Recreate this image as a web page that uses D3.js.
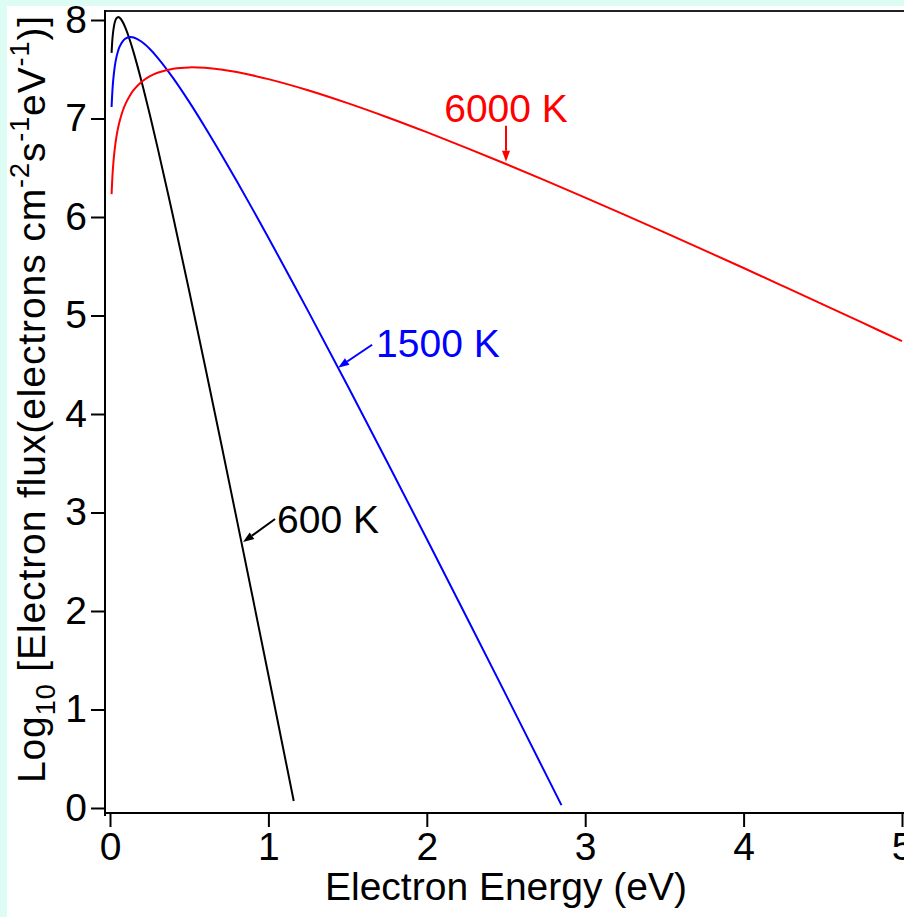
<!DOCTYPE html>
<html>
<head>
<meta charset="utf-8">
<script src="https://cdn.jsdelivr.net/npm/d3@7"></script>
<style>
  html, body { margin: 0; padding: 0; background: #dcfcf4; }
  svg { display: block; }
  text { font-family: "Liberation Sans", Arial, Helvetica, sans-serif; }
</style>
</head>
<body>
<div id="chart"></div>
<script>
// ---- Data ----
const xTicks = [0, 1, 2, 3, 4, 5];
const yTicks = [0, 1, 2, 3, 4, 5, 6, 7, 8];

const energy600 = [0.01,0.015,0.02,0.03,0.04,0.05,0.06,0.08,0.1,0.125,0.15,0.2,0.25,0.3,0.4,0.5,0.6,0.7,0.8,0.9,1.0,1.1,1.16];
const flux600   = [7.666,7.800,7.883,7.975,8.016,8.029,8.024,7.981,7.910,7.797,7.666,7.371,7.048,6.707,5.992,5.249,4.488,3.715,2.933,2.144,1.350,0.551,0.071];

const energy1500 = [0.01,0.015,0.02,0.03,0.04,0.05,0.06,0.08,0.1,0.125,0.15,0.2,0.25,0.3,0.4,0.5,0.6,0.7,0.8,0.9,1.0,1.25,1.5,1.75,2.0,2.25,2.5,2.75,2.85];
const flux1500   = [7.116,7.276,7.384,7.526,7.618,7.681,7.727,7.784,7.814,7.827,7.822,7.779,7.708,7.619,7.408,7.169,6.912,6.643,6.365,6.080,5.790,5.047,4.286,3.513,2.731,1.942,1.148,0.349,0.029];

const energy6000 = [0.01,0.015,0.02,0.03,0.04,0.05,0.06,0.08,0.1,0.125,0.15,0.2,0.25,0.3,0.4,0.5,0.6,0.7,0.8,1.0,1.25,1.5,1.75,2.0,2.25,2.5,2.75,3.0,3.25,3.5,3.75,4.0,4.25,4.5,4.75,5.0];
const flux6000   = [6.232,6.404,6.524,6.692,6.809,6.897,6.968,7.076,7.156,7.232,7.290,7.373,7.428,7.465,7.506,7.519,7.514,7.497,7.471,7.400,7.287,7.156,7.013,6.861,6.702,6.538,6.369,6.197,6.022,5.844,5.664,5.482,5.298,5.113,4.927,4.739];

const seriesNames  = ["600 K", "1500 K", "6000 K"];
const seriesColors = ["#000000", "#0000ff", "#ff0000"];
// annotation arrow tips (energy, log flux) on each curve
const labelTipE = [0.84, 1.44, 2.50];
const labelTipY = [2.70, 4.47, 6.56];

// ---- Layout ----
const W = 904, H = 917;
const svg = d3.select("#chart").append("svg").attr("width", W).attr("height", H);
svg.append("rect").attr("x", 7).attr("y", 6).attr("width", W - 7).attr("height", H - 6).attr("fill", "#ffffff");

const x = d3.scaleLinear().domain([0, 5]).range([110, 902]);
const y = d3.scaleLinear().domain([0, 8]).range([808, 20]);

const axisLeftX = 105, axisBottomY = 813, frameTopY = 11;
const fontSize = 39;

// frame lines
svg.append("line").attr("x1", axisLeftX).attr("x2", W).attr("y1", frameTopY).attr("y2", frameTopY)
  .attr("stroke", "#222").attr("stroke-width", 2);

// X axis
const xMinor = d3.range(0, 5.0001, 0.2).map(v => +v.toFixed(1));
const gx = svg.append("g").attr("transform", `translate(0,${axisBottomY})`);
gx.call(d3.axisBottom(x).tickValues(xMinor).tickSize(7).tickSizeOuter(0).tickFormat(""));
gx.call(d3.axisBottom(x).tickValues(xTicks).tickSize(14).tickSizeOuter(0).tickPadding(5).tickFormat(d3.format("d")));
gx.selectAll("path.domain").remove();
gx.selectAll("line").attr("stroke", "#000").attr("stroke-width", 2);
gx.selectAll("text").attr("font-size", fontSize).attr("fill", "#000").style("font-family", '"Liberation Sans", Arial, sans-serif');
svg.append("line").attr("x1", axisLeftX - 1).attr("x2", W).attr("y1", axisBottomY).attr("y2", axisBottomY)
  .attr("stroke", "#000").attr("stroke-width", 2);

// Y axis
const yMinor = d3.range(0, 8.0001, 0.2).map(v => +v.toFixed(1));
const gy = svg.append("g").attr("transform", `translate(${axisLeftX},0)`);
gy.call(d3.axisLeft(y).tickValues(yMinor).tickSize(7).tickSizeOuter(0).tickFormat(""));
gy.call(d3.axisLeft(y).tickValues(yTicks).tickSize(14).tickSizeOuter(0).tickPadding(4).tickFormat(d3.format("d")));
gy.selectAll("path.domain").remove();
gy.selectAll("line").attr("stroke", "#000").attr("stroke-width", 2);
gy.selectAll("text").attr("font-size", fontSize).attr("fill", "#000").style("font-family", '"Liberation Sans", Arial, sans-serif');
svg.append("line").attr("x1", axisLeftX).attr("x2", axisLeftX).attr("y1", frameTopY - 1).attr("y2", axisBottomY + 3)
  .attr("stroke", "#000").attr("stroke-width", 2);

// Curves
const series = [
  d3.zip(energy600, flux600),
  d3.zip(energy1500, flux1500),
  d3.zip(energy6000, flux6000)
];
const line = d3.line().x(d => x(d[0])).y(d => y(d[1])).curve(d3.curveCatmullRom.alpha(0.5));
series.forEach((s, i) => {
  svg.append("path").attr("d", line(s)).attr("fill", "none")
    .attr("stroke", seriesColors[i]).attr("stroke-width", 2);
});

// Annotations with arrows
function arrow(x1, y1, x2, y2, color) {
  const ang = Math.atan2(y2 - y1, x2 - x1);
  const len = 11, half = 4;
  const bx = x2 - len * Math.cos(ang), by = y2 - len * Math.sin(ang);
  svg.append("line").attr("x1", x1).attr("y1", y1).attr("x2", bx).attr("y2", by)
    .attr("stroke", color).attr("stroke-width", 2);
  const px = -Math.sin(ang) * half, py = Math.cos(ang) * half;
  svg.append("path")
    .attr("d", `M${x2},${y2}L${bx + px},${by + py}L${bx - px},${by - py}Z`)
    .attr("fill", color);
}
// 600 K
{
  const tx = x(labelTipE[0]), ty = y(labelTipY[0]);
  arrow(tx + 32, ty - 23, tx, ty, seriesColors[0]);
  svg.append("text").attr("x", tx + 34).attr("y", ty - 9).attr("font-size", fontSize)
    .attr("fill", seriesColors[0]).text(seriesNames[0]);
}
// 1500 K
{
  const tx = x(labelTipE[1]), ty = y(labelTipY[1]);
  arrow(tx + 34, ty - 23, tx, ty, seriesColors[1]);
  svg.append("text").attr("x", tx + 38).attr("y", ty - 11).attr("font-size", fontSize)
    .attr("fill", seriesColors[1]).text(seriesNames[1]);
}
// 6000 K
{
  const tx = x(labelTipE[2]), ty = y(labelTipY[2]);
  arrow(tx, ty - 36, tx, ty, seriesColors[2]);
  svg.append("text").attr("x", tx).attr("y", ty - 40).attr("font-size", fontSize)
    .attr("text-anchor", "middle").attr("fill", seriesColors[2]).text(seriesNames[2]);
}

// Axis titles
svg.append("text").attr("x", (x(0) + x(5)) / 2).attr("y", 900).attr("text-anchor", "middle")
  .attr("font-size", fontSize).attr("fill", "#000").text("Electron Energy (eV)");

const yt = svg.append("text").attr("transform", "translate(45,399) rotate(-90)")
  .attr("text-anchor", "middle").attr("font-size", fontSize).attr("fill", "#000")
  .attr("letter-spacing", 0.9);
const sm = 27;
yt.append("tspan").text("Log");
yt.append("tspan").attr("font-size", sm).attr("dy", 10).text("10");
yt.append("tspan").attr("dy", -10).text(" [Electron flux(electrons cm");
yt.append("tspan").attr("font-size", sm).attr("dy", -16).text("-2");
yt.append("tspan").attr("dy", 16).text("s");
yt.append("tspan").attr("font-size", sm).attr("dy", -16).text("-1");
yt.append("tspan").attr("dy", 16).text("eV");
yt.append("tspan").attr("font-size", sm).attr("dy", -16).text("-1");
yt.append("tspan").attr("dy", 16).text(")]");
</script>
</body>
</html>
